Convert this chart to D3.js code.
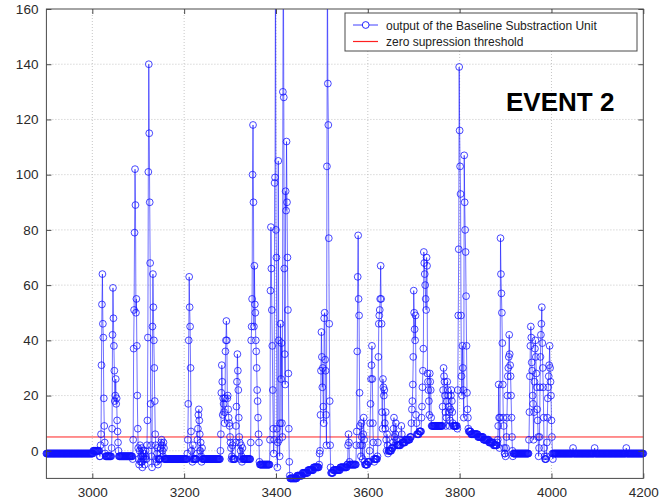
<!DOCTYPE html>
<html>
<head>
<meta charset="utf-8">
<script src="https://cdn.jsdelivr.net/npm/d3@7"></script>
<style>
  html, body { margin: 0; padding: 0; background: #fff; }
  svg { display: block; }
  text { font-family: "Liberation Sans", Arial, Helvetica, sans-serif; }
</style>
</head>
<body>
<svg id="chart" width="659" height="501"></svg>
<script>
// ---- data -------------------------------------------------------------
// sample window shown on the x axis
const sampleDomain = [2900, 4200];
const levelDomain = [-10, 160];

// baseline output, run-length coded: [first sample, end sample (exclusive), level]
const baselineRuns = [
  [2900, 3002, -1], [3002, 3016, 0], [3016, 3088, -2], [3088, 3355, -3],
  [3355, 3430, -5],
  [3430, 3446, -10], [3446, 3458, -9], [3458, 3470, -8], [3470, 3482, -7],
  [3482, 3494, -6], [3494, 3515, -5], [3515, 3525, -8], [3525, 3540, -7],
  [3540, 3555, -6], [3555, 3600, -5], [3600, 3612, -4], [3612, 3622, -3],
  [3622, 3632, -2], [3632, 3642, -1], [3642, 3652, 0], [3652, 3662, 1],
  [3662, 3672, 2], [3672, 3682, 3], [3682, 3692, 4], [3692, 3702, 5],
  [3702, 3712, 6], [3712, 3722, 7], [3722, 3732, 8], [3732, 3795, 9],
  [3795, 3810, 8], [3810, 3825, 7], [3825, 3840, 6], [3840, 3852, 5],
  [3852, 3864, 4], [3864, 3874, 3], [3874, 3882, 2], [3882, 3890, 1],
  [3890, 3898, 0], [3898, 3905, -1], [3905, 3912, -2], [3912, 3985, -1],
  [3985, 4003, -3], [4003, 4201, -1]
];

// signal pulses: first sample and the consecutive output values from it
const pulses = [
  { at: 3018, v: [2, 6, 31, 53, 64, 46, 41, 19, 9, 3, -1, -2] },
  { at: 3042, v: [1, 8, 42, 59, 48, 38, 29, 18, 20, 26, 17, 19, 11, 7, 3, 0, -2] },
  { at: 3089, v: [4, 37, 51, 79, 102, 89, 50, 55, 38, 20, 8, 1, -3, -5, 0, 2, -4] },
  { at: 3106, v: [-2, 1, -4, -6, -2, 0, -3, -1, -5, -3, 0, -2] },
  { at: 3118, v: [-3, 2, 11, 41, 101, 140, 115, 90, 68, 17, 2, -2, -6, 45, 64, 52, 40, 30, 18, 6, 2, -3, -4, -1, 1, -5] },
  { at: 3148, v: [-3, 1, 3, 4, 2, 0, -2, 3, 1, -3] },
  { at: 3207, v: [-1, 4, 17, 40, 63, 52, 45, 30, 7, 0, -3, -4, 2, -3] },
  { at: 3228, v: [-1, 4, 8, 13, 15, 11, 6, 0, 3, -2, -4, 1, -3] },
  { at: 3279, v: [0, 6, 21, 31, 25, 13, 19, 17, 14, 10, 19, 36, 40, 47, 40, 19, 20, 15, 12, 10, 9, 5, 3, 1, -3, -2, 2, -3] },
  { at: 3311, v: [-3, 3, 9, 16, 25, 35, 29, 22, 12, 5, 3, -3, 0, 2, -2, -4, 1, -3] },
  { at: 3344, v: [-3, 3, 40, 45, 55, 100, 118, 90, 45, 67, 53, 50, 40, 36, 30, 22, 18, 12, 6, 3, -4, -5] },
  { at: 3386, v: [-5, 4, 58, 81, 66, 51, 38, 22, 8, -1, 4, 97, 99, 190, 80, 70, 8, -6, 3, 105, 40, 4, -2, 10,
                  46, 26, 39, 10, 5, 130, 190, 128, 66, 35, 24, 94, 87, 112, 90, 70, 51, 28, 8, -4, -9] },
  { at: 3495, v: [-1, 0, 13, 29, 43, 34, 23, 30, 16, 10, 48, 50, 33, 29, 13, 2, 103, 180, 133, 118, 77, 46, 18, 2, -6] },
  { at: 3556, v: [-5, 2, 6, 3, -4] },
  { at: 3574, v: [-5, 2, 7, 36, 63, 78, 55, 49, 21, 9, 2, -2, 10, 5, 2, -3, 6, 12, 4, -4] },
  { at: 3603, v: [-4, 0, 10, 17, 26, 31, 38, 26, 10, 3, -3, -4] },
  { at: 3621, v: [-2, 3, 34, 46, 49, 51, 55, 67, 55, 46, 14, 8, 26, 23, 20, 22, 10, 8, 14, 4, 0, 6, 2, -1] },
  { at: 3655, v: [3, 8, 12, 5, 2, 6, 10, 4] },
  { at: 3672, v: [4, 9, 6, 3] },
  { at: 3694, v: [5, 10, 15, 18, 24, 34, 58, 50, 44, 40, 49, 13, 10, 6] },
  { at: 3716, v: [7, 12, 16, 23, 29, 37, 72, 68, 64, 60, 55, 51, 70, 67, 28, 25, 22, 18, 13, 28, 25, 22, 12, 9] },
  { at: 3762, v: [9, 16, 22, 30, 27, 25, 20, 14, 9, 12, 18, 25, 22, 20, 16, 14, 9, 11, 15, 20, 22, 18, 14, 10] },
  { at: 3795, v: [8, 22, 49, 73, 139, 116, 103, 93, 49, 27, 20, 38, 30, 22, 12, 107, 90, 80, 72, 56, 38, 21, 15, 12, 8] },
  { at: 3882, v: [3, 4, 9, 24, 12, 1, 12, 77, 64, 57, 50, 39, 24, 12, 9, 1, -1] },
  { at: 3899, v: [-1, -2, 1, 5, 12, 20, 27, 30, 34, 42, 35, 31, 27, 20, 12, 5, 0, -2] },
  { at: 3950, v: [-1, 4, 14, 27, 38, 45, 41, 32, 29, 20, 17, 4, 14, 25, 37, 40, 34, 28, 23, 15, 11, 5, -2, 1, 5,
                  23, 34, 42, 46, 52, 39, 30, 23, 12, 1, -2, -3] },
  { at: 3988, v: [-3, -2, 3, 12, 19, 23, 27, 31, 38, 30, 25, 20, 11, 5, -1, -3] },
  { at: 4047, v: [1] },
  { at: 4094, v: [1] },
  { at: 4163, v: [1] }
];

const threshold = 5;
const xTicks = [3000, 3200, 3400, 3600, 3800, 4000, 4200];
const yTicks = [0, 20, 40, 60, 80, 100, 120, 140, 160];
const legendLabels = ["output of the Baseline Substraction Unit", "zero supression threshold"];
const eventLabel = "EVENT 2";

// ---- assemble the sample series --------------------------------------
const levelAt = new Map();
baselineRuns.forEach(([a, b, lvl]) => { for (let s = a; s < b; s++) levelAt.set(s, lvl); });
pulses.forEach(p => p.v.forEach((val, k) => levelAt.set(p.at + k, val)));
const series = d3.range(sampleDomain[0], sampleDomain[1] + 1).map(s => ({ s, v: levelAt.get(s) }));

// ---- layout ------------------------------------------------------------
const svg = d3.select("#chart");
const plot = { left: 46.4, right: 643.3, top: 9, bottom: 478.4 };
const x = d3.scaleLinear().domain(sampleDomain).range([plot.left, plot.right]);
const y = d3.scaleLinear().domain(levelDomain).range([plot.bottom, plot.top]);

const blue = "#1010ff";
const red = "#ff2020";
const frame = "#4a4a4a";

svg.append("defs").append("clipPath").attr("id", "plotClip")
  .append("rect")
  .attr("x", plot.left).attr("y", plot.top)
  .attr("width", plot.right - plot.left).attr("height", plot.bottom - plot.top);

// dotted grid
const grid = svg.append("g").attr("stroke", "#b8b8b8").attr("stroke-width", 0.8)
  .attr("stroke-dasharray", "1,2");
grid.selectAll("line.gx").data(xTicks.filter(t => t < sampleDomain[1])).join("line")
  .attr("x1", d => x(d)).attr("x2", d => x(d)).attr("y1", plot.top).attr("y2", plot.bottom);
grid.selectAll("line.gy").data(yTicks.filter(t => t < levelDomain[1])).join("line")
  .attr("y1", d => y(d)).attr("y2", d => y(d)).attr("x1", plot.left).attr("x2", plot.right);

// threshold
svg.append("line")
  .attr("x1", plot.left).attr("x2", plot.right)
  .attr("y1", y(threshold)).attr("y2", y(threshold))
  .attr("stroke", red).attr("stroke-width", 1);

// output samples: connecting line plus circle markers
const g = svg.append("g").attr("clip-path", "url(#plotClip)");
g.append("path").datum(series)
  .attr("fill", "none").attr("stroke", blue).attr("stroke-width", 0.7)
  .attr("stroke-opacity", 0.85)
  .attr("d", d3.line().x(d => x(d.s)).y(d => y(d.v)));

svg.append("g").selectAll("circle")
  .data(series.filter(d => d.v <= levelDomain[1] && d.v >= levelDomain[0]))
  .join("circle")
  .attr("cx", d => x(d.s)).attr("cy", d => y(d.v)).attr("r", 3.4)
  .attr("fill", "none").attr("stroke", blue).attr("stroke-width", 0.9)
  .attr("stroke-opacity", 0.85);

// axes (box with inward ticks on all sides)
const tickLen = 5;
const fmt = d3.format("d");
const axB = svg.append("g").attr("transform", `translate(0,${plot.bottom})`)
  .call(d3.axisBottom(x).tickValues(xTicks).tickFormat(fmt).tickSizeInner(-tickLen).tickSizeOuter(0).tickPadding(9));
const axT = svg.append("g").attr("transform", `translate(0,${plot.top})`)
  .call(d3.axisTop(x).tickValues(xTicks).tickSizeInner(-tickLen).tickSizeOuter(0).tickFormat(""));
const axL = svg.append("g").attr("transform", `translate(${plot.left},0)`)
  .call(d3.axisLeft(y).tickValues(yTicks).tickFormat(fmt).tickSizeInner(-tickLen).tickSizeOuter(0).tickPadding(8));
const axR = svg.append("g").attr("transform", `translate(${plot.right},0)`)
  .call(d3.axisRight(y).tickValues(yTicks).tickSizeInner(-tickLen).tickSizeOuter(0).tickFormat(""));

[axB, axT, axL, axR].forEach(a => {
  a.select(".domain").remove();
  a.selectAll(".tick line").attr("stroke", frame);
  a.selectAll(".tick text").attr("fill", "#2a2a2a")
    .style("font-family", "'Liberation Sans', Arial, Helvetica, sans-serif")
    .style("font-size", "13.5px");
});
svg.append("rect")
  .attr("x", plot.left).attr("y", plot.top)
  .attr("width", plot.right - plot.left).attr("height", plot.bottom - plot.top)
  .attr("fill", "none").attr("stroke", frame).attr("stroke-width", 1);

// legend
const lg = svg.append("g");
lg.append("rect").attr("x", 345).attr("y", 13).attr("width", 292).attr("height", 38)
  .attr("fill", "#fff").attr("stroke", frame).attr("stroke-width", 1);
lg.append("line").attr("x1", 353).attr("x2", 378).attr("y1", 25).attr("y2", 25)
  .attr("stroke", blue).attr("stroke-width", 0.8);
lg.append("circle").attr("cx", 365.7).attr("cy", 25).attr("r", 3.4)
  .attr("fill", "#fff").attr("stroke", blue).attr("stroke-width", 0.9);
lg.append("line").attr("x1", 353).attr("x2", 378).attr("y1", 41.5).attr("y2", 41.5)
  .attr("stroke", red).attr("stroke-width", 1.2);
lg.selectAll("text").data(legendLabels).join("text")
  .attr("x", 386).attr("y", (d, i) => 29.5 + i * 16.5)
  .attr("fill", "#222").style("font-size", "12px")
  .text(d => d);

// event tag
svg.append("text").attr("x", 506).attr("y", 110.5)
  .attr("fill", "#000").style("font-size", "26px").style("font-weight", "bold")
  .text(eventLabel);
</script>
</body>
</html>
